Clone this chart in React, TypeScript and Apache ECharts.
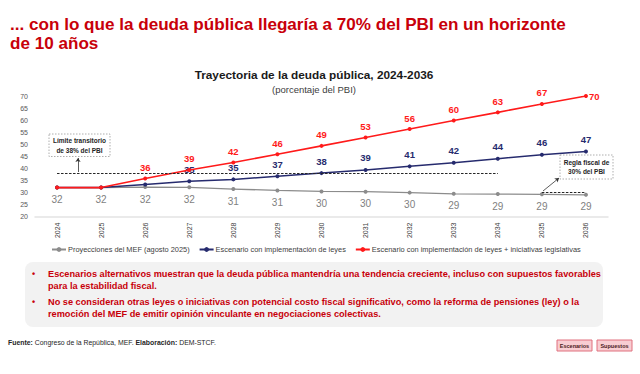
import React, { useEffect, useRef } from "react";
import * as echarts from "echarts";

const categories = ["2024", "2025", "2026", "2027", "2028", "2029", "2030", "2031", "2032", "2033", "2034", "2035", "2036"];
const mefValues = [32, 32, 32.2, 32.1, 31.4, 30.8, 30.4, 30.3, 29.9, 29.4, 29.3, 29.2, 29.0];
const leyesValues = [32, 32, 33.3, 34.6, 35.4, 36.7, 38.0, 39.3, 40.8, 42.3, 44.0, 45.6, 47.0];
const iniciativasValues = [32, 32, 35.8, 39.3, 42.4, 45.8, 49.3, 52.8, 56.3, 59.8, 63.2, 66.7, 70.0];
const seriesNames = [
  "Proyecciones del MEF (agosto 2025)",
  "Escenario con implementación de leyes",
  "Escenario con implementación de leyes + iniciativas legislativas",
];
const limitTransitorio = 38;
const reglaFiscal = 30;
const yTicks = { min: 20, max: 70, interval: 5 };

const FONT = "'Liberation Sans', Arial, sans-serif";
const RED = "#ff1a1a";
const NAVY = "#262b6e";
const GRAY = "#8c8c8c";
const DARKRED = "#c8000a";

export default function App() {
  const ref = useRef<HTMLDivElement>(null);
  useEffect(() => {
    if (!ref.current) return;
    const chart = echarts.init(ref.current, null, { renderer: "svg" });

    const grayData = mefValues.map((v) => ({
      value: v,
      label: { show: true },
    }));
    const blueData = leyesValues.map((v, i) => ({
      value: v,
      label: { show: i >= 3 },
    }));
    const redData = iniciativasValues.map((v, i) => ({
      value: v,
      label: {
        show: i >= 2,
        position: i === iniciativasValues.length - 1 ? "right" : "top",
        distance: i === iniciativasValues.length - 1 ? 1 : 4,
      },
    }));

    const boxText = (x: number, y: number, w: number, h: number, lines: string[]) => ({
      type: "group",
      children: [
        {
          type: "rect",
          shape: { x, y, width: w, height: h },
          style: { fill: "#ffffff", stroke: "#9a9a9a", lineWidth: 0.8, lineDash: [1.5, 1.5] },
        },
        ...lines.map((t, k) => ({
          type: "text",
          style: {
            x: x + w / 2,
            y: y + h / 2 + (k - (lines.length - 1) / 2) * 9.5,
            text: t,
            fill: "#262626",
            font: `bold 6.5px ${FONT}`,
            align: "center",
            verticalAlign: "middle",
          },
        })),
      ],
    });

    const button = (x: number, label: string) => ({
      type: "group",
      children: [
        {
          type: "rect",
          shape: { x, y: 340, width: 35, height: 11 },
          style: { fill: "#f8cdd2", stroke: "#e0707e", lineWidth: 1 },
        },
        {
          type: "text",
          style: {
            x: x + 17.5,
            y: 345.5,
            text: label,
            fill: "#4a1a1a",
            font: `bold 5.5px ${FONT}`,
            align: "center",
            verticalAlign: "middle",
          },
        },
      ],
    });

    const bulletLines = [
      { y: 274, text: "Escenarios alternativos muestran que la deuda pública mantendría una tendencia creciente, incluso con supuestos favorables", bullet: true },
      { y: 285.5, text: "para la estabilidad fiscal.", bullet: false },
      { y: 302, text: "No se consideran otras leyes o iniciativas con potencial costo fiscal significativo, como la reforma de pensiones (ley) o la", bullet: true },
      { y: 313.5, text: "remoción del MEF de emitir opinión vinculante en negociaciones colectivas.", bullet: false },
    ];

    const option: any = {
      animation: false,
      backgroundColor: "#ffffff",
      textStyle: { fontFamily: FONT },
      title: [
        {
          text: "... con lo que la deuda pública llegaría a 70% del PBI en un horizonte\nde 10 años",
          left: 10,
          top: 14.5,
          padding: 0,
          textStyle: { color: DARKRED, fontSize: 17.1, fontWeight: "bold", fontFamily: FONT, lineHeight: 19 },
        },
        {
          text: "Trayectoria de la deuda pública, 2024-2036",
          left: 314,
          textAlign: "center",
          top: 69,
          padding: 0,
          textStyle: { color: "#1a1a1a", fontSize: 11.8, fontWeight: "bold", fontFamily: FONT },
        },
        {
          text: "(porcentaje del PBI)",
          left: 314,
          textAlign: "center",
          top: 84,
          padding: 0,
          textStyle: { color: "#404040", fontSize: 9.5, fontWeight: "normal", fontFamily: FONT },
        },
      ],
      grid: { left: 35, right: 32, top: 96, bottom: 157.5, containLabel: false },
      legend: {
        left: 51,
        top: 246,
        padding: 0,
        itemWidth: 14,
        itemHeight: 6,
        itemGap: 9,
        textStyle: { fontSize: 7.4, color: "#404040", fontFamily: FONT, padding: [0, 0, 0, -3] },
        data: seriesNames,
      },
      xAxis: {
        type: "category",
        data: categories,
        boundaryGap: true,
        axisLine: { show: true, lineStyle: { color: "#e3e3e3", width: 1.5 } },
        axisTick: { show: false },
        axisLabel: { rotate: 90, fontSize: 7, color: "#404040", margin: 6, fontFamily: FONT },
      },
      yAxis: {
        type: "value",
        min: yTicks.min,
        max: yTicks.max,
        interval: yTicks.interval,
        axisLine: { show: false },
        axisTick: { show: false },
        splitLine: { show: false },
        axisLabel: { fontSize: 7, color: "#595959", margin: 7, fontFamily: FONT },
      },
      series: [
        {
          name: seriesNames[0],
          type: "line",
          data: grayData,
          color: GRAY,
          symbol: "circle",
          symbolSize: 4,
          lineStyle: { width: 1.3, color: GRAY },
          itemStyle: { color: GRAY },
          label: {
            position: "bottom",
            distance: 5,
            fontSize: 10,
            color: "#7f7f7f",
            fontFamily: FONT,
            formatter: (p: any) => String(Math.round(p.value)),
          },
          z: 2,
        },
        {
          name: seriesNames[1],
          type: "line",
          data: blueData,
          color: NAVY,
          symbol: "circle",
          symbolSize: 4,
          lineStyle: { width: 1.5, color: NAVY },
          itemStyle: { color: NAVY },
          label: {
            position: "top",
            distance: 5,
            fontSize: 9.5,
            fontWeight: "bold",
            color: NAVY,
            fontFamily: FONT,
            formatter: (p: any) => String(Math.round(p.value)),
          },
          z: 3,
        },
        {
          name: seriesNames[2],
          type: "line",
          data: redData,
          color: RED,
          symbol: "circle",
          symbolSize: 4,
          lineStyle: { width: 1.6, color: RED },
          itemStyle: { color: RED },
          label: {
            fontSize: 9.5,
            fontWeight: "bold",
            color: RED,
            fontFamily: FONT,
            formatter: (p: any) => String(Math.round(p.value)),
          },
          z: 4,
          markLine: {
            silent: true,
            symbol: "none",
            label: { show: false },
            lineStyle: { type: [2.5, 1.5], color: "#262626", width: 1.2 },
            data: [
              [{ coord: [categories[0], limitTransitorio] }, { coord: [categories[10], limitTransitorio] }],
              [{ coord: [categories[11], reglaFiscal] }, { coord: [categories[12], reglaFiscal] }],
            ],
          },
        },
        {
          name: "arrows",
          type: "line",
          data: [],
          markLine: {
            silent: true,
            symbol: ["none", "arrow"],
            symbolSize: 4,
            label: { show: false },
            lineStyle: { type: "solid", color: "#333333", width: 0.8 },
            data: [
              [{ x: 78, y: 172 }, { x: 78, y: 158 }],
              [{ x: 543, y: 191 }, { x: 559, y: 178 }],
            ],
          },
        },
      ],
      graphic: [
        boxText(49, 134, 61, 22.5, ["Límite transitorio", "de 38% del PBI"]),
        boxText(560, 155, 53, 24, ["Regla fiscal de", "30% del PBI"]),
        {
          type: "rect",
          shape: { x: 25, y: 262, width: 578, height: 65, r: 8 },
          style: { fill: "#f2f2f2" },
          z: -1,
        },
        ...bulletLines.flatMap((l) => {
          const els: any[] = [
            {
              type: "text",
              style: {
                x: 48,
                y: l.y,
                text: l.text,
                fill: DARKRED,
                font: `bold 9.2px ${FONT}`,
                verticalAlign: "middle",
              },
            },
          ];
          if (l.bullet) {
            els.push({
              type: "text",
              style: {
                x: 33.5,
                y: l.y,
                text: "•",
                fill: DARKRED,
                font: `bold 9px ${FONT}`,
                align: "center",
                verticalAlign: "middle",
              },
            });
          }
          return els;
        }),
        {
          type: "text",
          style: {
            x: 8,
            y: 342.5,
            text: "{b|Fuente:} Congreso de la República, MEF. {b|Elaboración:} DEM-STCF.",
            font: `6.9px ${FONT}`,
            fill: "#262626",
            verticalAlign: "middle",
            rich: {
              b: { fontWeight: "bold", fontSize: 6.9, fontFamily: FONT, fill: "#262626" },
            },
          },
        },
        button(557, "Escenarios"),
        button(597, "Supuestos"),
      ],
    };
    chart.setOption(option);
    return () => chart.dispose();
  }, []);
  return (
    <div
      ref={ref}
      style={{ position: "fixed", left: 0, top: 0, width: 640, height: 374 }}
    />
  );
}
